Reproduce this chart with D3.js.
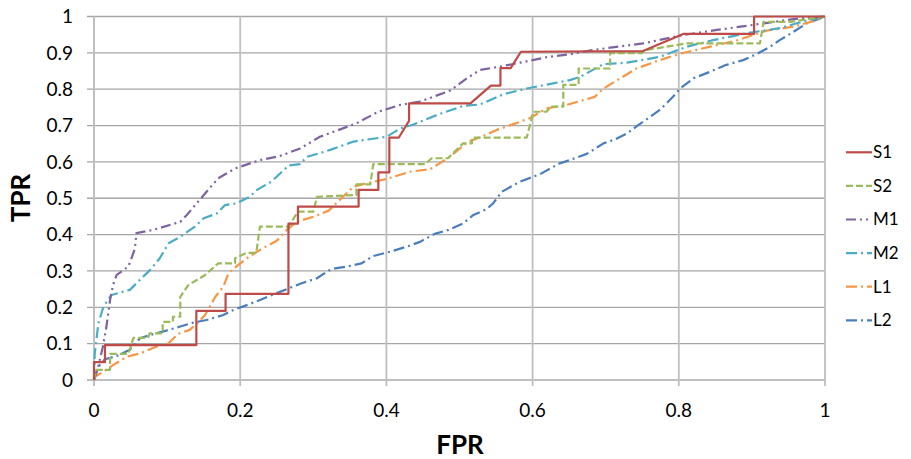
<!DOCTYPE html>
<html><head><meta charset="utf-8">
<script src="https://cdn.jsdelivr.net/npm/d3@7"></script>
<style>body{margin:0;background:#fff}svg{display:block}</style>
</head><body>
<svg id="chart" width="911" height="459"></svg>
<script>
const xTicks = [0, 0.2, 0.4, 0.6, 0.8, 1];
const yTicks = [0, 0.1, 0.2, 0.3, 0.4, 0.5, 0.6, 0.7, 0.8, 0.9, 1];
const seriesNames = ["S1", "S2", "M1", "M2", "L1", "L2"];

const s1X = [0,0,0.015,0.015,0.14,0.14,0.18,0.18,0.266,0.266,0.279,0.279,0.362,0.362,0.389,0.389,0.404,0.404,0.417,0.431,0.431,0.515,0.543,0.556,0.556,0.570,0.584,0.751,0.806,0.903,0.903,1];
const s1Y = [0,0.049,0.049,0.096,0.096,0.19,0.19,0.237,0.237,0.43,0.43,0.477,0.477,0.523,0.523,0.571,0.571,0.667,0.667,0.713,0.761,0.761,0.81,0.81,0.858,0.858,0.903,0.905,0.952,0.952,1,1];

const s2X = [0,0.003,0.022,0.022,0.047,0.054,0.074,0.076,0.094,0.094,0.108,0.108,0.118,0.118,0.129,0.152,0.161,0.17,0.193,0.193,0.209,0.222,0.227,0.266,0.279,0.300,0.305,0.359,0.359,0.378,0.382,0.453,0.462,0.484,0.505,0.517,0.517,0.592,0.601,0.619,0.625,0.642,0.642,0.663,0.663,0.706,0.706,0.749,0.756,0.811,0.911,0.916,0.952,1];
const s2Y = [0,0.028,0.028,0.072,0.072,0.116,0.116,0.128,0.128,0.16,0.16,0.174,0.174,0.229,0.261,0.289,0.305,0.321,0.321,0.335,0.35,0.35,0.422,0.422,0.463,0.463,0.504,0.509,0.538,0.538,0.594,0.594,0.61,0.61,0.651,0.651,0.667,0.667,0.738,0.738,0.752,0.752,0.812,0.812,0.857,0.857,0.899,0.899,0.908,0.926,0.926,0.985,0.985,1];

const m1X = [0,0.005,0.012,0.017,0.022,0.026,0.031,0.047,0.052,0.056,0.058,0.081,0.118,0.127,0.154,0.17,0.193,0.227,0.254,0.282,0.309,0.359,0.389,0.419,0.446,0.487,0.51,0.528,0.555,0.583,0.619,0.651,0.683,0.751,0.806,0.852,0.902,0.957,1];
const m1Y = [0,0.03,0.09,0.147,0.22,0.261,0.289,0.312,0.339,0.362,0.404,0.413,0.435,0.454,0.518,0.555,0.582,0.605,0.616,0.637,0.669,0.706,0.738,0.757,0.766,0.796,0.83,0.853,0.862,0.873,0.888,0.896,0.908,0.926,0.949,0.963,0.977,0.993,1];

const m2X = [0,0.001,0.006,0.013,0.024,0.049,0.058,0.065,0.077,0.09,0.102,0.118,0.138,0.15,0.168,0.179,0.195,0.213,0.223,0.243,0.266,0.282,0.291,0.309,0.323,0.355,0.4,0.419,0.437,0.469,0.505,0.528,0.56,0.592,0.628,0.651,0.665,0.697,0.729,0.774,0.811,0.847,0.893,0.938,0.97,1];
const m2Y = [0,0.073,0.156,0.202,0.234,0.248,0.266,0.28,0.303,0.335,0.376,0.394,0.422,0.445,0.458,0.481,0.486,0.504,0.523,0.546,0.59,0.594,0.614,0.624,0.633,0.656,0.669,0.692,0.703,0.729,0.754,0.758,0.786,0.802,0.816,0.825,0.834,0.869,0.873,0.889,0.917,0.935,0.954,0.968,0.986,1];

const l1X = [0,0.001,0.013,0.026,0.045,0.063,0.086,0.102,0.115,0.131,0.143,0.152,0.166,0.177,0.184,0.197,0.209,0.227,0.25,0.264,0.277,0.3,0.321,0.355,0.368,0.4,0.432,0.46,0.487,0.51,0.533,0.551,0.574,0.596,0.619,0.647,0.685,0.697,0.72,0.742,0.774,0.804,0.843,0.879,0.92,0.957,0.989,1];
const l1Y = [0,0.009,0.023,0.041,0.064,0.073,0.092,0.101,0.127,0.138,0.16,0.179,0.229,0.257,0.294,0.316,0.335,0.358,0.383,0.413,0.435,0.449,0.466,0.532,0.539,0.553,0.573,0.58,0.614,0.653,0.672,0.688,0.704,0.72,0.747,0.757,0.779,0.802,0.83,0.857,0.88,0.899,0.917,0.934,0.961,0.972,0.99,1];

const l2X = [0,0.001,0.006,0.015,0.031,0.049,0.063,0.077,0.099,0.118,0.136,0.154,0.177,0.191,0.209,0.227,0.25,0.266,0.284,0.305,0.321,0.33,0.346,0.366,0.382,0.405,0.428,0.446,0.466,0.485,0.505,0.519,0.537,0.546,0.558,0.583,0.61,0.637,0.651,0.674,0.697,0.713,0.729,0.745,0.761,0.774,0.792,0.802,0.82,0.843,0.865,0.888,0.906,0.925,0.938,0.957,0.975,1];
const l2Y = [0,0.009,0.037,0.057,0.066,0.083,0.115,0.124,0.136,0.147,0.158,0.165,0.179,0.193,0.206,0.22,0.239,0.252,0.266,0.28,0.301,0.307,0.312,0.321,0.341,0.353,0.367,0.38,0.402,0.413,0.431,0.454,0.47,0.486,0.518,0.546,0.566,0.596,0.605,0.622,0.651,0.662,0.678,0.702,0.724,0.743,0.779,0.802,0.83,0.848,0.867,0.88,0.896,0.917,0.935,0.958,0.981,1];

const seriesX = [s1X, s2X, m1X, m2X, l1X, l2X];
const seriesY = [s1Y, s2Y, m1Y, m2Y, l1Y, l2Y];
const colors = ["#BE4B48", "#9BBB59", "#7F63A1", "#4AACC5", "#F79646", "#4A7EBB"];
const dashes = [null, "7,3", "10,4,2,4,2,4", "11,4,2,4", "11,4,2,4", "11,4,2,4"];

const svg = d3.select("#chart");
const pLeft = 94, pRight = 825, pTop = 16.5, pBottom = 380;
const x = d3.scaleLinear().domain([0, 1]).range([pLeft, pRight]);
const y = d3.scaleLinear().domain([0, 1]).range([pBottom, pTop]);
const font = "Lato, 'Open Sans', sans-serif";

// gridlines
svg.append("g").selectAll("line").data(yTicks).join("line")
  .attr("x1", pLeft - 7).attr("x2", pRight).attr("y1", d => y(d)).attr("y2", d => y(d))
  .attr("stroke", "#A6A6A6").attr("stroke-width", 1.3);
svg.append("g").selectAll("line").data(xTicks).join("line")
  .attr("x1", d => x(d)).attr("x2", d => x(d)).attr("y1", pTop).attr("y2", pBottom + 6)
  .attr("stroke", "#BFBFBF").attr("stroke-width", 1.8);
// axis lines
svg.append("line").attr("x1", pLeft).attr("x2", pRight).attr("y1", pBottom).attr("y2", pBottom)
  .attr("stroke", "#BFBFBF").attr("stroke-width", 1.8);
svg.append("line").attr("x1", pLeft).attr("x2", pLeft).attr("y1", pTop).attr("y2", pBottom + 6)
  .attr("stroke", "#BFBFBF").attr("stroke-width", 1.8);

// tick labels
svg.append("g").selectAll("text").data(yTicks).join("text")
  .attr("x", 73).attr("y", d => y(d)).attr("dy", "0.35em").attr("text-anchor", "end")
  .attr("font-family", font).attr("font-size", 19).attr("fill", "#000")
  .text(d => String(d));
svg.append("g").selectAll("text").data(xTicks).join("text")
  .attr("x", d => x(d)).attr("y", 417).attr("text-anchor", "middle")
  .attr("font-family", font).attr("font-size", 19).attr("fill", "#000")
  .text(d => String(d));

// axis titles
svg.append("text").attr("x", 460).attr("y", 454).attr("text-anchor", "middle")
  .attr("font-family", font).attr("font-weight", "bold").attr("font-size", 26).text("FPR");
svg.append("text").attr("transform", "translate(30,198) rotate(-90)").attr("text-anchor", "middle")
  .attr("font-family", font).attr("font-weight", "bold").attr("font-size", 26).text("TPR");

// lines
const line = d3.line().x(d => x(d[0])).y(d => y(d[1]));
const order = [5, 4, 3, 2, 1, 0];
order.forEach(i => {
  const pts = seriesX[i].map((v, j) => [v, seriesY[i][j]]);
  svg.append("path").datum(pts).attr("d", line)
    .attr("fill", "none").attr("stroke", colors[i]).attr("stroke-width", 2.2)
    .attr("stroke-dasharray", dashes[i]).attr("stroke-linejoin", "round");
});

// legend
const lg = svg.append("g");
seriesNames.forEach((n, i) => {
  const yy = 152.3 + i * 33.6;
  lg.append("line").attr("x1", 846).attr("x2", 872).attr("y1", yy).attr("y2", yy)
    .attr("stroke", colors[i]).attr("stroke-width", 2.2).attr("stroke-dasharray", dashes[i]);
  lg.append("text").attr("x", 873).attr("y", yy).attr("dy", "0.35em")
    .attr("font-family", font).attr("font-size", 17).text(n);
});
</script>
</body></html>
